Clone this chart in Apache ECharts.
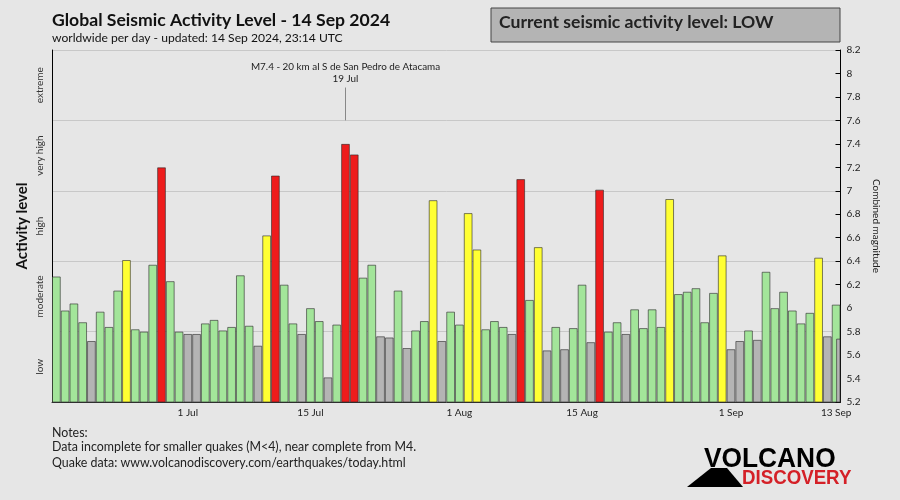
<!DOCTYPE html>
<html><head><meta charset="utf-8">
<script src="https://cdn.jsdelivr.net/npm/echarts@6/dist/echarts.min.js"></script>
<style>html,body{margin:0;padding:0;background:#e6e6e6;}#c{width:900px;height:500px;}</style>
</head><body><div id="c"></div>
<script>
const dates = [
 '16 Jun','17 Jun','18 Jun','19 Jun','20 Jun','21 Jun','22 Jun','23 Jun','24 Jun','25 Jun','26 Jun','27 Jun','28 Jun','29 Jun','30 Jun',
 '1 Jul','2 Jul','3 Jul','4 Jul','5 Jul','6 Jul','7 Jul','8 Jul','9 Jul','10 Jul','11 Jul','12 Jul','13 Jul','14 Jul','15 Jul','16 Jul','17 Jul','18 Jul','19 Jul','20 Jul','21 Jul','22 Jul','23 Jul','24 Jul','25 Jul','26 Jul','27 Jul','28 Jul','29 Jul','30 Jul','31 Jul',
 '1 Aug','2 Aug','3 Aug','4 Aug','5 Aug','6 Aug','7 Aug','8 Aug','9 Aug','10 Aug','11 Aug','12 Aug','13 Aug','14 Aug','15 Aug','16 Aug','17 Aug','18 Aug','19 Aug','20 Aug','21 Aug','22 Aug','23 Aug','24 Aug','25 Aug','26 Aug','27 Aug','28 Aug','29 Aug','30 Aug','31 Aug',
 '1 Sep','2 Sep','3 Sep','4 Sep','5 Sep','6 Sep','7 Sep','8 Sep','9 Sep','10 Sep','11 Sep','12 Sep','13 Sep'
];
const magnitudes = [
 6.27,5.98,6.04,5.88,5.72,5.97,5.84,6.15,6.41,5.82,5.80,6.37,7.20,6.23,5.80,
 5.78,5.78,5.87,5.90,5.81,5.84,6.28,5.85,5.68,6.62,7.13,6.20,5.87,5.78,6.00,5.89,5.41,5.86,7.40,7.31,6.26,6.37,5.76,5.75,6.15,5.66,5.81,5.89,6.92,5.72,5.97,
 5.86,6.81,6.50,5.82,5.89,5.84,5.78,7.10,6.07,6.52,5.64,5.84,5.65,5.83,6.20,5.71,7.01,5.80,5.88,5.78,5.99,5.83,5.99,5.84,6.93,6.12,6.14,6.17,5.88,6.13,6.45,
 5.65,5.72,5.81,5.73,6.31,6.00,6.14,5.98,5.87,5.96,6.43,5.76,6.03
];
const lastDay = { date: '14 Sep', value: 5.74 };
const levelNames = ['low','moderate','high','very high','extreme'];
const levelThresholds = [5.8, 6.4, 7.0];
const levelColors = ['#b4b4b4','#a3e59a','#ffff33','#ee1c1c'];
const xTickLabels = ['1 Jul','15 Jul','1 Aug','15 Aug','1 Sep','13 Sep'];
const annotation = { date: '19 Jul', text: 'M7.4 - 20 km al S de San Pedro de Atacama', from: 7.6, to: 7.88 };
const magMin = 5.2, magMax = 8.2, magStep = 0.2;

function colorFor(v){
  let i = 0;
  while (i < levelThresholds.length && v >= levelThresholds[i]) i++;
  return levelColors[i];
}
const barData = magnitudes.map(v => ({ value: v, itemStyle: { color: colorFor(v) } }));
const lastData = dates.map((d, i) => i === dates.length - 1 ? { value: lastDay.value, itemStyle: { color: colorFor(lastDay.value) } } : '-');
const showTick = (i, v) => xTickLabels.indexOf(v) >= 0;

const FONT = 'Lato, "Open Sans", sans-serif';
const LOGO = '"Liberation Sans", Arial, sans-serif';
const chart = echarts.init(document.getElementById('c'), null, { renderer: 'canvas' });
chart.setOption({
  backgroundColor: '#e6e6e6',
  animation: false,
  textStyle: { fontFamily: FONT },
  grid: { left: 52, right: 59.5, top: 50, bottom: 98 },
  xAxis: [{
    type: 'category', data: dates, boundaryGap: true,
    axisLine: { lineStyle: { color: '#333', width: 1 } },
    axisTick: { interval: showTick, alignWithLabel: true, length: 4, lineStyle: { color: '#333' } },
    axisLabel: { interval: showTick, fontSize: 10, color: '#222', margin: 6, fontFamily: FONT },
    splitLine: { show: false }
  }, {
    type: 'category', data: dates, boundaryGap: true, show: false, position: 'bottom'
  }],
  yAxis: [{
    type: 'category', data: levelNames, position: 'left', boundaryGap: true,
    name: 'Activity level', nameLocation: 'middle', nameGap: 22, nameRotate: 90, nameMoveOverlap: false,
    nameTextStyle: { fontSize: 15, fontWeight: 'bold', color: '#111', fontFamily: FONT },
    axisLine: { lineStyle: { color: '#000', width: 1 } },
    axisTick: { length: 4, lineStyle: { color: '#888' } },
    axisLabel: { rotate: 90, fontSize: 10, color: '#333', margin: 7, fontFamily: FONT },
    splitLine: { show: true, lineStyle: { color: '#c8c8c8', width: 1 } }
  }, {
    type: 'value', position: 'right', min: magMin, max: magMax, interval: magStep,
    name: 'Combined magnitude', nameLocation: 'middle', nameGap: 27, nameRotate: -90,
    nameTextStyle: { fontSize: 10, color: '#222', fontFamily: FONT },
    axisLine: { show: true, lineStyle: { color: '#000', width: 1 } },
    axisTick: { show: true, inside: true, length: 5, lineStyle: { color: '#000' } },
    axisLabel: { fontSize: 10, color: '#222', margin: 6, fontFamily: FONT },
    splitLine: { show: false }
  }],
  series: [{
    type: 'bar', name: 'magnitude', data: barData, xAxisIndex: 0, yAxisIndex: 1,
    barCategoryGap: '0%',
    itemStyle: { borderColor: 'rgba(40,40,40,0.6)', borderWidth: 1 },
    markLine: {
      silent: true, symbol: 'none',
      lineStyle: { color: '#888', width: 1, type: 'solid' },
      label: { show: true, position: 'end', distance: 3, formatter: annotation.text + '\n' + annotation.date,
        fontSize: 9.9, lineHeight: 12, color: '#222', fontFamily: FONT },
      data: [[{ coord: [annotation.date, annotation.from] }, { coord: [annotation.date, annotation.to] }]]
    }
  }, {
    type: 'bar', name: 'pad', data: dates.map(() => '-'), xAxisIndex: 1, yAxisIndex: 1,
    barWidth: '50%', barGap: '0%'
  }, {
    type: 'bar', name: lastDay.date, data: lastData, xAxisIndex: 1, yAxisIndex: 1,
    barWidth: '50%', barGap: '0%',
    itemStyle: { borderColor: 'rgba(40,40,40,0.6)', borderWidth: 1 }
  }],
  graphic: [
    { type: 'text', left: 52, top: 11, style: { text: 'Global Seismic Activity Level - 14 Sep 2024', font: 'bold 17.6px ' + FONT, fill: '#111' } },
    { type: 'text', left: 52, top: 32, style: { text: 'worldwide per day - updated: 14 Sep 2024, 23:14 UTC', font: '12.1px ' + FONT, fill: '#111' } },
    { type: 'rect', shape: { x: 491, y: 8, width: 349, height: 34 }, style: { fill: '#b4b4b4', stroke: '#444', lineWidth: 1 } },
    { type: 'text', left: 499, top: 13, style: { text: 'Current seismic activity level: LOW', font: 'bold 17.6px ' + FONT, fill: '#222' } },
    { type: 'text', left: 52, top: 427, style: { text: 'Notes:', font: '12.4px ' + FONT, fill: '#222' } },
    { type: 'text', left: 52, top: 441, style: { text: 'Data incomplete for smaller quakes (M<4), near complete from M4.', font: '12.4px ' + FONT, fill: '#222' } },
    { type: 'text', left: 52, top: 457, style: { text: 'Quake data: www.volcanodiscovery.com/earthquakes/today.html', font: '12.4px ' + FONT, fill: '#222' } },
    { type: 'polygon', shape: { points: [[687,487],[711,468],[727,468],[743,487]] }, style: { fill: '#000' } },
    { type: 'text', x: 704, y: 445, scaleX: 0.94, style: { text: 'VOLCANO', font: 'bold 28px ' + LOGO, fill: '#000' } },
    { type: 'text', x: 742, y: 468, scaleX: 0.89, style: { text: 'DISCOVERY', font: 'bold 21px ' + LOGO, fill: '#d42027' } }
  ]
});
</script></body></html>
